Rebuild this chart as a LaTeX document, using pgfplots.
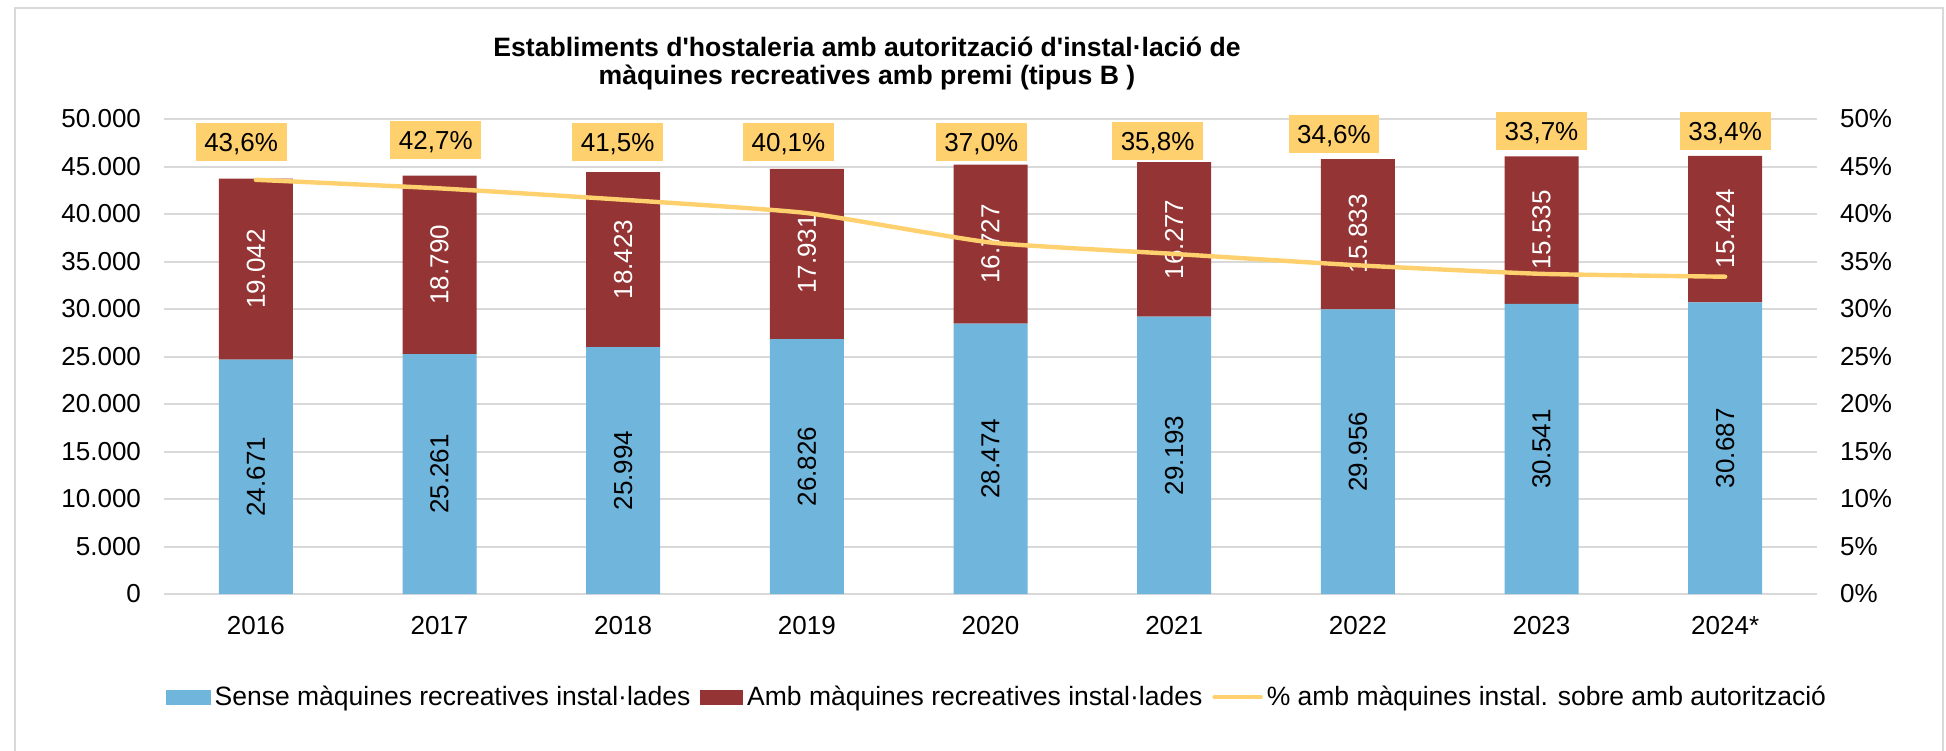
\documentclass[border=0pt]{standalone}
\usepackage{fontspec}
\setmainfont{Liberation Sans}
\newfontfamily\arial{Liberation Sans}
\usepackage{pgfplots}
\pgfplotsset{compat=1.18}
\usepackage{pgfplotstable}
\definecolor{blueC}{RGB}{112,181,219}
\definecolor{redC}{RGB}{148,52,52}
\definecolor{yellowC}{RGB}{255,208,110}
\definecolor{gridC}{RGB}{217,217,217}
\newcommand\fs{\fontsize{13pt}{15.6pt}\selectfont}
\newcommand\fl{\fontsize{13.25pt}{15.6pt}\selectfont}

\pgfplotstableread{
x sense amb senseL ambL pct pctL lx ly
0 24671 19042 24.671 19.042 43.6 43,6 -0.08 47.58
1 25261 18790 25.261 18.790 42.7 42,7 0.98 47.79
2 25994 18423 25.994 18.423 41.5 41,5 1.97 47.58
3 26826 17931 26.826 17.931 40.1 40,1 2.90 47.58
4 28474 16727 28.474 16.727 37.0 37,0 3.95 47.58
5 29193 16277 29.193 16.277 35.8 35,8 4.91 47.68
6 29956 15833 29.956 15.833 34.6 34,6 5.87 48.42
7 30541 15535 30.541 15.535 33.7 33,7 7.00 48.74
8 30687 15424 30.687 15.424 33.4 33,4 8.00 48.74
}\datatable

\pgfplotsset{base/.style={
  at={(82pt,78pt)}, anchor=south west, scale only axis,
  width=826.5pt, height=237.5pt, xmin=-0.5, xmax=8.5,
  enlargelimits=false, clip=false,
}}

\begin{document}
\begin{tikzpicture}
\path[use as bounding box] (0,0) rectangle (973pt,375pt);
\draw[gridC, line width=1pt] (7.5pt,-2pt) -- (7.5pt,371pt) -- (971.5pt,371pt) -- (971.5pt,-2pt);

\begin{axis}[base, ybar stacked, bar width=37pt,
  ymin=0, ymax=50000, ytick={0,5000,...,50000},
  scaled y ticks=false,
  axis lines*=left,
  y axis line style={draw=none},
  x axis line style={draw=gridC, line width=1pt},
  major tick length=0pt,
  ymajorgrids, grid style={draw=gridC, line width=1pt},
  xtick={0,...,8},
  xticklabels={2016,2017,2018,2019,2020,2021,2022,2023,2024*},
  tick label style={font=\fs},
  yticklabel style={xshift=-8pt},
  xticklabel style={yshift=-7.5pt},
  /pgf/number format/1000 sep={.},
  /pgf/number format/assume math mode=true]
\addplot[fill=blueC, draw=none] table[x=x, y=sense]{\datatable};
\addplot[fill=redC, draw=none] table[x=x, y=amb]{\datatable};
\end{axis}

\begin{axis}[base, hide axis, ymin=0, ymax=50000]
\addplot[only marks, mark=none, point meta=explicit symbolic, nodes near coords,
  every node near coord/.append style={anchor=center, rotate=90, font=\fs, text=black}]
  table[x=x, y expr=\thisrow{sense}/2, meta=senseL]{\datatable};
\addplot[only marks, mark=none, point meta=explicit symbolic, nodes near coords,
  every node near coord/.append style={anchor=center, rotate=90, font=\fs, text=white}]
  table[x=x, y expr=\thisrow{sense}+\thisrow{amb}/2, meta=ambL]{\datatable};
\end{axis}

\begin{axis}[base, ymin=0, ymax=50, ytick={0,5,...,50},
  axis y line*=right, hide x axis,
  y axis line style={draw=none},
  major tick length=0pt,
  yticklabel={\pgfmathprintnumber{\tick}\%},
  yticklabel style={font=\fs, xshift=8pt},
  /pgf/number format/assume math mode=true,
  legend columns=3,
  legend cell align=left,
  legend style={at={(0.5045,-0.217)}, anchor=center, draw=none, fill=none,
    font=\fl, inner sep=0pt, nodes={inner xsep=2pt, inner ysep=1pt},
    /tikz/every even column/.append style={column sep=3pt}}]
\addlegendimage{legend image code/.code={\fill[blueC] (0pt,-3.5pt) rectangle (22pt,3.5pt);}}
\addlegendentry{Sense màquines recreatives instal·lades}
\addlegendimage{legend image code/.code={\fill[redC] (0pt,-3.5pt) rectangle (21pt,3.5pt);}}
\addlegendentry{Amb màquines recreatives instal·lades}
\addplot[yellowC, line width=2.2pt, smooth, tension=0.3, line cap=round, mark=none,
  legend image code/.code={\draw[yellowC, line width=2.2pt] (0pt,0pt) -- (23pt,0pt);}]
  table[x=x, y=pct]{\datatable};
\addlegendentry{\% amb màquines instal. sobre amb autorització}
\addplot[only marks, mark=none, forget plot, point meta=explicit symbolic,
  nodes near coords={\pgfplotspointmeta\%},
  every node near coord/.append style={anchor=center, fill=yellowC, font=\fs, text=black,
    inner xsep=4.3pt, inner ysep=0pt, minimum height=19pt, text height=9.3pt, text depth=0pt}]
  table[x=lx, y=ly, meta=pctL]{\datatable};
\end{axis}

\node[font=\arial\bfseries\fontsize{13.3pt}{14pt}\selectfont, align=center] at (433.5pt,343pt)
  {Establiments d'hostaleria amb autorització d'instal·lació de\\màquines recreatives amb premi (tipus B )};
\end{tikzpicture}
\end{document}
